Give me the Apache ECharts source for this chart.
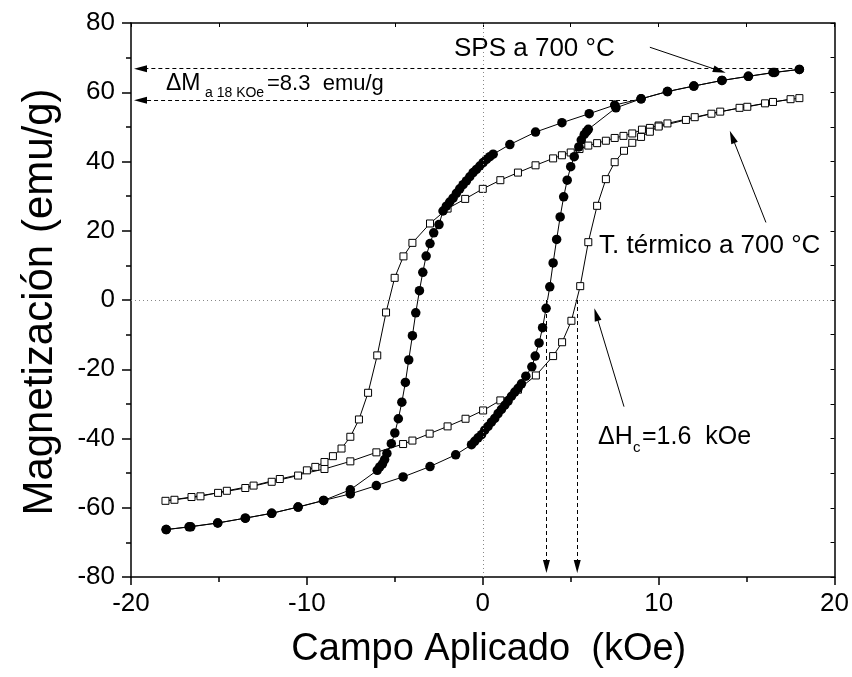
<!DOCTYPE html>
<html>
<head>
<meta charset="utf-8">
<script src="https://cdn.jsdelivr.net/npm/echarts@6/dist/echarts.min.js"></script>
<style>
  html, body { margin: 0; padding: 0; background: #fff; }
  #loop { width: 852px; height: 677px; }
</style>
</head>
<body>
<div id="loop"></div>
<script type="text/javascript">
// SPS a 700 °C (circulos) - rama descendente y ascendente
var spsDownX = [18.0, 16.6, 15.1, 13.6, 12.0, 10.5, 9.0, 7.5, 6.05, 4.5, 3.0, 1.54,
  0.59, 0.40, 0.21, 0.02, -0.17, -0.36, -0.55, -0.74, -0.93, -1.12, -1.31, -1.50, -1.69, -1.88, -2.07, -2.26,
  -2.49, -2.79, -3.0, -3.22, -3.41, -3.6, -3.81, -4.0, -4.21, -4.4, -4.6, -4.8, -5.0, -5.2,
  -5.45, -5.58, -5.7, -5.86, -6.0, -7.53, -9.05, -10.5, -12.0, -13.5, -15.07, -16.6, -18.0];
var spsDownY = [66.6, 65.7, 64.6, 63.4, 61.8, 60.2, 58.1, 56.3, 53.8, 51.2, 48.5, 44.9,
  42.1, 41.4, 40.6, 39.7, 38.7, 37.7, 36.8, 35.6, 34.4, 33.3, 32.1, 30.8, 29.4, 28.3, 27.1, 25.7,
  21.8, 19.4, 16.3, 12.7, 8.0, 2.7, -3.7, -10.3, -17.3, -23.8, -29.5, -34.3, -38.4, -41.5,
  -44.3, -46.1, -47.3, -48.2, -49.2, -54.8, -57.9, -59.8, -61.6, -63.0, -64.4, -65.5, -66.3];
var spsUpX = [-18.0, -16.7, -15.07, -13.5, -12.0, -10.5, -9.05, -7.53, -6.05, -4.53, -3.0, -1.54,
  -0.64, -0.46, -0.27, -0.07, 0.11, 0.30, 0.49, 0.68, 0.87, 1.06, 1.25, 1.44, 1.63, 1.82, 2.01, 2.20,
  2.45, 2.79, 2.98, 3.2, 3.4, 3.6, 3.81, 4.0, 4.2, 4.4, 4.6, 4.8, 5.0, 5.2,
  5.46, 5.6, 5.77, 5.9, 6.0, 7.57, 9.0, 10.5, 12.0, 13.6, 15.1, 16.5, 18.0];
var spsUpY = [-66.3, -65.5, -64.4, -63.0, -61.6, -59.8, -57.9, -56.0, -53.6, -51.1, -48.1, -44.7,
  -41.8, -40.8, -39.8, -38.9, -37.6, -36.5, -35.3, -34.2, -32.8, -31.6, -30.4, -29.2, -27.8, -26.6, -25.5, -24.2,
  -22.0, -19.3, -16.2, -12.4, -8.0, -2.4, 3.8, 10.7, 17.5, 24.0, 29.8, 34.6, 38.5, 41.4,
  44.2, 46.2, 47.8, 48.6, 49.3, 55.5, 58.1, 60.2, 61.8, 63.4, 64.6, 65.7, 66.6];

// T. termico a 700 °C (cuadrados)
var ttDownX = [18.0, 16.5, 15.04, 13.5, 12.05, 10.5, 10.0, 9.5, 9.05, 8.5, 8.0, 7.5, 7.0, 6.5, 6.0, 5.5, 5.0, 4.5,
  4.0, 3.0, 2.0, 1.0, 0.0, -1.0, -2.0, -3.0, -4.0, -4.51, -5.01, -5.5, -6.0, -6.52, -7.04, -7.53, -8.03, -8.52,
  -9.0, -9.52, -10.0, -10.5, -12.0, -13.5, -15.05, -16.56, -18.04];
var ttDownY = [58.3, 57.2, 55.8, 54.4, 52.8, 51.0, 50.4, 49.7, 49.2, 48.1, 47.4, 46.8, 46.0, 45.3, 44.6, 43.6, 42.6, 41.8,
  40.9, 38.9, 36.8, 34.6, 32.1, 29.2, 26.4, 22.1, 16.5, 12.6, 6.4, -3.6, -16.0, -26.8, -34.5, -39.5, -42.9, -45.1,
  -46.8, -48.2, -49.2, -50.7, -52.5, -54.3, -55.7, -56.9, -58.0];
var ttUpX = [-17.53, -16.05, -14.55, -13.03, -11.54, -9.0, -7.53, -6.05, -4.53, -4.0, -3.02, -2.0, -0.98, 0.02,
  1.0, 2.0, 3.02, 4.0, 4.51, 5.04, 5.54, 6.0, 6.5, 7.0, 7.5, 8.03, 8.5, 9.0, 9.5, 10.0,
  11.55, 13.0, 14.6, 16.05, 17.5];
var ttUpY = [-57.7, -56.7, -55.1, -53.6, -51.7, -48.8, -46.6, -44.0, -41.6, -40.6, -38.6, -36.5, -34.3, -31.9,
  -29.0, -25.9, -21.8, -16.2, -12.2, -6.0, 4.0, 16.7, 27.2, 34.9, 39.8, 43.1, 45.4, 47.1, 48.6, 50.1,
  52.0, 53.8, 55.5, 56.8, 58.0];

var xTicks = [-20, -10, 0, 10, 20];
var yTicks = [-80, -60, -40, -20, 0, 20, 40, 60, 80];

function pairs(xs, ys) {
  return xs.map(function (x, i) { return [x, ys[i]]; });
}

var FONT = "'Liberation Sans', Arial, Helvetica, sans-serif";
var arrowLine = { color: "#000", width: 1, type: [4, 3] };
var frame = { onZero: false, lineStyle: { color: "#000", width: 1.5 } };

var chart = echarts.init(document.getElementById("loop"));

var option = {
  animation: false,
  backgroundColor: "#fff",
  textStyle: { fontFamily: FONT },
  grid: { left: 131, right: 17, top: 23, bottom: 100 },
  xAxis: [
    {
      type: "value",
      position: "bottom",
      min: xTicks[0],
      max: xTicks[xTicks.length - 1],
      interval: 10,
      name: "Campo Aplicado  (kOe)",
      nameLocation: "middle",
      nameGap: 54,
      nameTextStyle: { fontSize: 38, color: "#000", fontFamily: FONT, padding: [0, 0, 0, 12] },
      axisLine: frame,
      axisTick: { length: 8, lineStyle: { color: "#000", width: 1.5 } },
      minorTick: { show: true, splitNumber: 2, length: 5, lineStyle: { color: "#000", width: 1.5 } },
      axisLabel: { fontSize: 26, color: "#000", margin: 14, fontFamily: FONT },
      splitLine: { show: false }
    },
    {
      type: "value",
      position: "top",
      min: -20,
      max: 20,
      interval: 5,
      axisLine: frame,
      axisTick: { inside: true, length: 4, lineStyle: { color: "#000" } },
      axisLabel: { show: false },
      splitLine: { show: false }
    }
  ],
  yAxis: [
    {
      type: "value",
      min: yTicks[0],
      max: yTicks[yTicks.length - 1],
      interval: 20,
      axisLine: frame,
      axisTick: { length: 9, lineStyle: { color: "#000", width: 1.5 } },
      minorTick: { show: true, splitNumber: 2, length: 5, lineStyle: { color: "#000", width: 1.5 } },
      axisLabel: { fontSize: 26, color: "#000", margin: 16, fontFamily: FONT },
      splitLine: { show: false }
    },
    {
      type: "value",
      position: "right",
      min: -80,
      max: 80,
      interval: 10,
      axisLine: frame,
      axisTick: { inside: true, length: 4, lineStyle: { color: "#000" } },
      axisLabel: { show: false },
      splitLine: { show: false }
    }
  ],
  series: [
    {
      // lineas punteadas en cero
      type: "line",
      data: [],
      markLine: {
        silent: true,
        symbol: "none",
        label: { show: false },
        lineStyle: { color: "#888", width: 1, type: [1, 3] },
        data: [{ xAxis: 0 }, { yAxis: 0 }]
      }
    },
    {
      name: "T. térmico a 700 °C",
      type: "line",
      data: pairs(ttDownX, ttDownY).concat(pairs(ttUpX, ttUpY)),
      symbol: "rect",
      symbolSize: 7,
      itemStyle: { color: "#fff", borderColor: "#000", borderWidth: 1 },
      lineStyle: { color: "#000", width: 1 },
      z: 3
    },
    {
      name: "SPS a 700 °C",
      type: "line",
      data: pairs(spsDownX, spsDownY).concat(pairs(spsUpX, spsUpY)),
      symbol: "circle",
      symbolSize: 9.5,
      itemStyle: { color: "#000" },
      lineStyle: { color: "#000", width: 1 },
      z: 4,
      markLine: {
        silent: true,
        symbol: ["none", "triangle"],
        symbolSize: [7, 13],
        label: { show: false },
        lineStyle: arrowLine,
        data: [
          [{ coord: [18, 66.8] }, { coord: [-19.46, 66.8] }],
          [{ coord: [9.0, 57.7] }, { coord: [-19.46, 57.7] }],
          [{ coord: [3.62, 0] }, { coord: [3.62, -77.0] }],
          [{ coord: [5.37, 0] }, { coord: [5.37, -77.0] }],
          [{ coord: [9.5, 73.0], lineStyle: { type: "solid" } }, { coord: [13.46, 66.2] }],
          [{ coord: [16.1, 22.4], lineStyle: { type: "solid" } }, { coord: [14.18, 47.1] }],
          [{ coord: [8.03, -30.8], lineStyle: { type: "solid", curveness: -0.15 } }, { coord: [6.45, -4.2] }]
        ]
      }
    }
  ],
  graphic: [
    // titulo del eje Y
    {
      type: "text", x: 40, y: 302, rotation: Math.PI / 2,
      style: { text: "Magnetización (emu/g)", font: "42px " + FONT, fill: "#000", textAlign: "center", textVerticalAlign: "middle" }
    },
    { type: "text", x: 166, y: 84, style: { text: "ΔM", font: "23px " + FONT, fill: "#000", textVerticalAlign: "middle" } },
    { type: "text", x: 205, y: 93, style: { text: "a 18 KOe", font: "14px " + FONT, fill: "#000", textVerticalAlign: "middle" } },
    { type: "text", x: 267, y: 84, style: { text: "=8.3  emu/g", font: "22px " + FONT, fill: "#000", textVerticalAlign: "middle" } },
    { type: "text", x: 454, y: 49, style: { text: "SPS a 700 °C", font: "26px " + FONT, fill: "#000", textVerticalAlign: "middle" } },
    { type: "text", x: 599, y: 246, style: { text: "T. térmico a 700 °C", font: "26px " + FONT, fill: "#000", textVerticalAlign: "middle" } },
    { type: "text", x: 598, y: 437, style: { text: "ΔH", font: "25px " + FONT, fill: "#000", textVerticalAlign: "middle" } },
    { type: "text", x: 633, y: 448, style: { text: "c", font: "15px " + FONT, fill: "#000", textVerticalAlign: "middle" } },
    { type: "text", x: 642, y: 437, style: { text: "=1.6  kOe", font: "25px " + FONT, fill: "#000", textVerticalAlign: "middle" } }
  ]
};

chart.setOption(option);
</script>
</body>
</html>
